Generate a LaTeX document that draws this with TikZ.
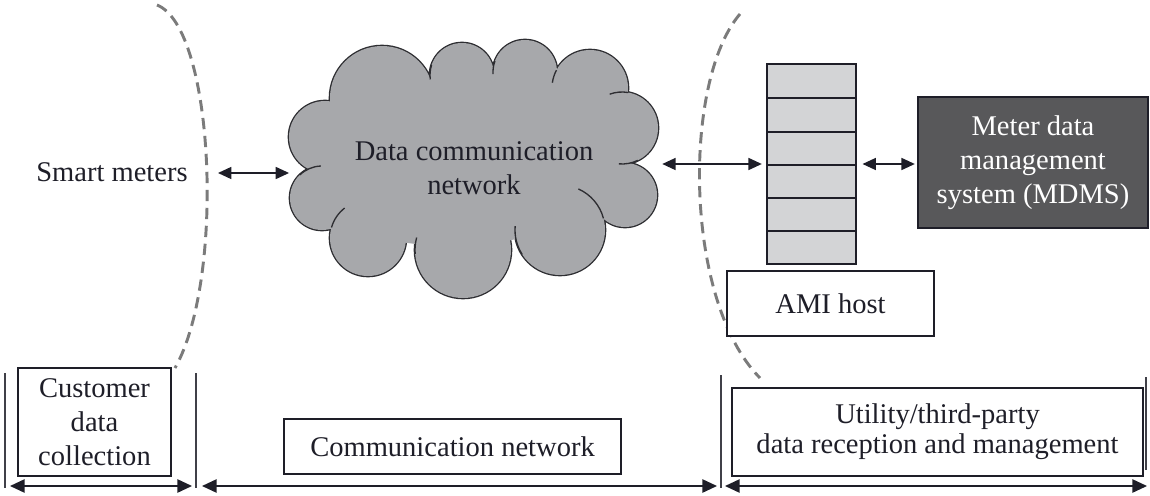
\documentclass[tikz,border=0pt]{standalone}
\usepackage{fontspec}
\setmainfont{Liberation Serif}
\usetikzlibrary{arrows.meta}
\definecolor{txt}{HTML}{1E1E28}
\definecolor{dashc}{HTML}{7B7B7B}
\definecolor{cloudfill}{HTML}{A7A8AB}
\definecolor{cloudedge}{HTML}{2E2E32}
\definecolor{stackfill}{HTML}{D3D4D6}
\definecolor{mdmsfill}{HTML}{58585A}
\begin{document}
\begin{tikzpicture}[x=0.75pt, y=-0.75pt,
  font=\fontsize{21.4}{25.5}\selectfont, text=txt,
  box/.style={draw=txt, line width=1pt, fill=white, inner sep=0pt, align=center},
  arr/.style={{Triangle[length=10pt,width=9pt]}-{Triangle[length=10pt,width=9pt]}, line width=1.1pt, draw=txt},
  bigarr/.style={{Triangle[length=11pt,width=10pt]}-{Triangle[length=11pt,width=10pt]}, line width=1.2pt, draw=txt},
  divider/.style={line width=1.1pt, draw=txt!85},
  dasharc/.style={draw=dashc, line width=2.2pt, dash pattern=on 8.5pt off 5pt},
  tail/.style={draw=cloudedge, line width=1pt}]
\useasboundingbox (0,0) rectangle (1150,496);

% dashed boundaries
\draw[dasharc] (157,5) .. controls (215,28) and (225,280) .. (175,368);
\draw[dasharc] (740,14) .. controls (683,80) and (683,300) .. (760,378);

% cloud: union of circles (outline trick)
\def\cloudcircles{%
  (325,137) circle[radius=36]
  (322,198) circle[radius=32]
  (368,238) circle[radius=38]
  (463,250) circle[radius=48]
  (560,230) circle[radius=45]
  (625,195) circle[radius=32]
  (622,128) circle[radius=36]
  (590,88) circle[radius=38]
  (525,72) circle[radius=32]
  (462,75) circle[radius=32]
  (382,98) circle[radius=52]}
\draw[draw=cloudedge, line width=2pt] \cloudcircles;
\fill[cloudfill] \cloudcircles;
\fill[cloudfill] (325,137) -- (382,98) -- (462,75) -- (525,72) -- (590,88) -- (622,128)
  -- (625,195) -- (560,230) -- (463,250) -- (368,238) -- (322,198) -- cycle;
% inner tails of the cloud
\draw[tail] (322,198) ++(226:32) arc[start angle=226, end angle=268, radius=32];
\draw[tail] (462,75) ++(198:32) arc[start angle=198, end angle=172, radius=32];
\draw[tail] (525,72) ++(200:32) arc[start angle=200, end angle=176, radius=32];
\draw[tail] (590,88) ++(208:38) arc[start angle=208, end angle=188, radius=38];
\draw[tail] (622,128) ++(280:36) arc[start angle=280, end angle=250, radius=36];
\draw[tail] (622,128) ++(64:36) arc[start angle=64, end angle=95, radius=36];
\draw[tail] (560,230) ++(294:45) arc[start angle=294, end angle=345, radius=45];
\draw[tail] (560,230) ++(147:45) arc[start angle=147, end angle=185, radius=45];
\draw[tail] (463,250) ++(175:48) arc[start angle=175, end angle=195, radius=48];
\draw[tail] (368,238) ++(196:38) arc[start angle=196, end angle=232, radius=38];

% nodes
\node[align=center, minimum width=277pt, minimum height=195pt, inner sep=0pt] (cloud) at (474,168) {Data communication\\network};
\node[inner sep=0pt] (sm) at (112,172) {Smart meters};
\node[draw=txt, line width=0.8pt, fill=stackfill, minimum width=66.75pt, minimum height=150pt, inner sep=0pt] (stack) at (811.5,164) {};
\foreach \yy in {98,132,165,198,231}
  \draw[line width=1pt, txt] (stack.west |- 0,\yy) -- (stack.east |- 0,\yy);
\node[box, line width=1.8pt, minimum width=155.25pt, minimum height=48.75pt] (ami) at (830.5,303.5) {AMI host};
\node[draw=txt, line width=0.8pt, fill=mdmsfill, text=white, minimum width=172.5pt, minimum height=98.25pt, align=center, inner sep=0pt] (mdms) at (1033,162.5) {Meter data\\management\\system (MDMS)};

\node[box, minimum width=114.75pt, minimum height=81pt] (cust) at (94.5,422) {Customer\\data\\collection};
\node[box, minimum width=252.75pt, minimum height=41.25pt] (comm) at (452.5,446.5) {Communication network};
\node[box, minimum width=308.25pt, minimum height=66pt, font=\fontsize{21.4}{22.5}\selectfont] (util) at (937.5,432) {Utility/third-party\\data reception and management};

% upper connectors
\coordinate (smR) at (218,173);
\draw[arr] (smR) -- (cloud.west |- smR);
\draw[arr, shorten <=2.5pt, shorten >=3.5pt] (cloud.east |- stack.west) -- (stack.west);
\draw[arr, shorten <=4.5pt, shorten >=2pt] (stack.east) -- (mdms.west |- stack.east);

% dividers
\coordinate (d1t) at (5,373);   \coordinate (d1b) at (5,488);
\coordinate (d2t) at (196,373); \coordinate (d2b) at (196,488);
\coordinate (d3t) at (721,375); \coordinate (d3b) at (721,488);
\coordinate (d4t) at (1146,377); \coordinate (d4b) at (1146,470);
\draw[divider] (d1t) -- (d1b);
\draw[divider] (d2t) -- (d2b);
\draw[divider] (d3t) -- (d3b);
\draw[divider] (d4t) -- (d4b);

% span arrows
\coordinate (s1a) at (10,486);  \coordinate (s1b) at (192,486);
\coordinate (s2a) at (202,486); \coordinate (s2b) at (717,486);
\coordinate (s3a) at (725,486); \coordinate (s3b) at (1147,486);
\draw[bigarr] (s1a) -- (s1b);
\draw[bigarr] (s2a) -- (s2b);
\draw[bigarr] (s3a) -- (s3b);
\end{tikzpicture}
\end{document}
